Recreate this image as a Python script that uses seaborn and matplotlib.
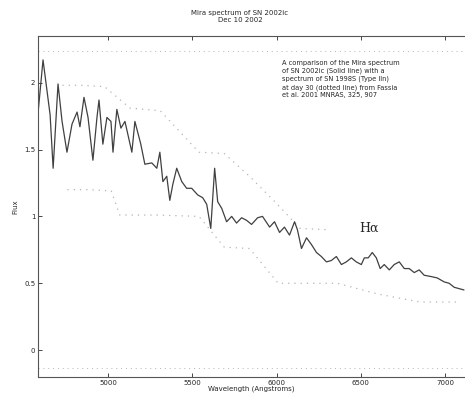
# Mira spectrum of SN 2002ic compared with SN 1998S (scanned figure redraw)
import numpy as np
import pandas as pd
import matplotlib
matplotlib.use("Agg")
import matplotlib.pyplot as plt
import seaborn as sns

# --- data ---
# SN 2002ic, solid line (wavelength in Angstroms, relative flux)
wave_2002ic = [4586, 4615, 4657, 4675, 4704, 4728, 4757, 4787, 4817, 4834,
               4858, 4882, 4911, 4935, 4947, 4970, 4994, 5018, 5030, 5053,
               5077, 5101, 5142, 5160, 5195, 5219, 5260, 5290, 5308, 5326,
               5349, 5367, 5385, 5408, 5438, 5467, 5497, 5533, 5562, 5586,
               5610, 5633, 5651, 5675, 5704, 5734, 5763, 5793, 5823, 5852,
               5888, 5917, 5959, 5988, 6018, 6047, 6077, 6107, 6124, 6148,
               6178, 6207, 6237, 6266, 6296, 6325, 6355, 6385, 6414, 6444,
               6473, 6503, 6521, 6544, 6568, 6592, 6615, 6639, 6669, 6698,
               6728, 6758, 6787, 6817, 6846, 6876, 6918, 6953, 6995, 7024,
               7054, 7083, 7112]
flux_2002ic = [1.78, 2.17, 1.76, 1.36, 1.99, 1.71, 1.48, 1.69, 1.78, 1.67,
               1.89, 1.74, 1.42, 1.74, 1.87, 1.54, 1.74, 1.71, 1.48, 1.80,
               1.66, 1.71, 1.48, 1.71, 1.54, 1.39, 1.40, 1.36, 1.48, 1.26,
               1.30, 1.12, 1.24, 1.36, 1.26, 1.21, 1.21, 1.16, 1.14, 1.09,
               0.91, 1.36, 1.11, 1.06, 0.96, 1.00, 0.95, 0.99, 0.97, 0.94,
               0.99, 1.00, 0.92, 0.96, 0.88, 0.92, 0.86, 0.96, 0.90, 0.76,
               0.84, 0.79, 0.73, 0.70, 0.66, 0.67, 0.70, 0.64, 0.66, 0.69,
               0.66, 0.64, 0.69, 0.69, 0.73, 0.69, 0.61, 0.64, 0.60, 0.64,
               0.66, 0.61, 0.61, 0.58, 0.60, 0.56, 0.55, 0.54, 0.51, 0.50,
               0.47, 0.46, 0.45]

# SN 1998S day 30, dotted line (faint, shows as an upper and a lower trace)
wave_1998s_up = [4730, 4850, 4980, 5130, 5220, 5310, 5540, 5690, 5840, 5990, 6140, 6310]
flux_1998s_up = [1.98, 1.98, 1.97, 1.81, 1.80, 1.79, 1.48, 1.47, 1.30, 1.11, 0.91, 0.90]
wave_1998s_lo = [4760, 4890, 5020, 5070, 5300, 5540, 5690, 5840, 6010, 6180, 6360, 6600, 6850, 7080]
flux_1998s_lo = [1.20, 1.20, 1.19, 1.01, 1.01, 1.00, 0.77, 0.76, 0.50, 0.50, 0.50, 0.42, 0.36, 0.36]

x_ticks = [5000, 5500, 6000, 6500, 7000]
y_ticks = [0, 0.5, 1, 1.5, 2]
y_tick_labels = ["0", "0.5", "1", "1.5", "2"]

note = ("A comparison of the Mira spectrum\n"
        "of SN 2002ic (Solid line) with a\n"
        "spectrum of SN 1998S (Type IIn)\n"
        "at day 30 (dotted line) from Fassia\n"
        "et al. 2001 MNRAS, 325, 907")

sns.set_style("white")
plt.rcParams['font.family'] = ['DejaVu Sans']

fig = plt.figure(figsize=(4.65, 3.98), dpi=100)
ax = fig.add_axes([0.082, 0.053, 0.918, 0.857])

df_a = pd.DataFrame({"wave": wave_2002ic, "flux": flux_2002ic})
df_up = pd.DataFrame({"wave": wave_1998s_up, "flux": flux_1998s_up})
df_lo = pd.DataFrame({"wave": wave_1998s_lo, "flux": flux_1998s_lo})

dot_style = (0, (1, 4))
sns.lineplot(data=df_up, x="wave", y="flux", ax=ax, color="#b4b4b4",
             linestyle=dot_style, linewidth=0.9, sort=False)
sns.lineplot(data=df_lo, x="wave", y="flux", ax=ax, color="#b4b4b4",
             linestyle=dot_style, linewidth=0.9, sort=False)
sns.lineplot(data=df_a, x="wave", y="flux", ax=ax, color="#404040",
             linewidth=0.9, sort=False)

# faint dotted inner box seen near the top and bottom
ax.axhline(2.24, color="#b4b4b4", linestyle=dot_style, linewidth=0.7)
ax.axhline(-0.13, color="#b4b4b4", linestyle=dot_style, linewidth=0.7)

ax.set_xlim(4586, 7118)
ax.set_ylim(-0.2, 2.35)
ax.set_xticks(x_ticks)
ax.set_xticklabels([str(t) for t in x_ticks])
ax.set_yticks(y_ticks)
ax.set_yticklabels(y_tick_labels)
ax.tick_params(direction="in", length=3, width=0.6, labelsize=5, pad=2,
               top=True, bottom=True, left=True)
for side in ["left", "top", "bottom"]:
    ax.spines[side].set_color("#555555")
    ax.spines[side].set_linewidth(0.8)
ax.spines["right"].set_visible(False)

ax.set_xlabel("Wavelength (Angstroms)", fontsize=5, labelpad=0)
ax.set_ylabel("Flux", fontsize=5, labelpad=4)

ax.text(6030, 2.17, note, fontsize=4.8, va="top", ha="left", linespacing=1.35)
ax.text(6550, 0.91, "H\u03b1", fontsize=9, family="DejaVu Serif", ha="center", va="center")

fig.text(0.516, 0.975, "Mira spectrum of SN 2002ic\nDec 10 2002", fontsize=5,
         ha="center", va="top", linespacing=1.3)

plt.savefig("out.png", dpi=100)
